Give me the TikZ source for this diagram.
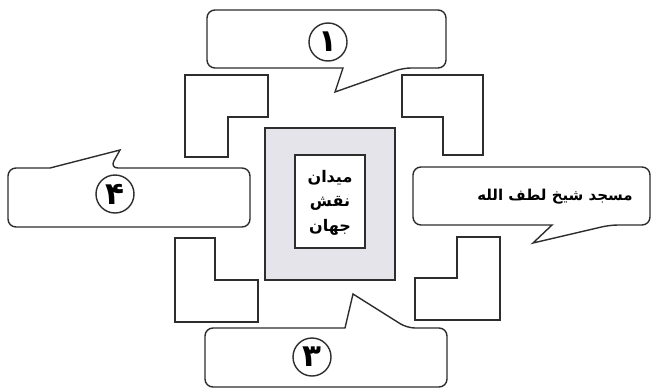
\documentclass[tikz,border=0pt]{standalone}
\usepackage{fontspec}
\TeXXeTstate=1
\newfontfamily\arabicbold[Script=Arabic]{DejaVu Sans Bold}
\begin{document}
\begin{tikzpicture}[x=1pt,y=-1pt,
  ln/.style={draw={rgb,255:red,45;green,45;blue,45},line width=1.4pt},
  callout/.style={ln,fill=white},
  lshape/.style={ln,fill=white},
  numc/.style={ln,circle,minimum size=38pt,inner sep=0pt,font=\arabicbold\fontsize{31}{31}\selectfont},
  ctext/.style={inner sep=0pt,font=\arabicbold\fontsize{16}{16}\selectfont},
  rtext/.style={inner sep=0pt,font=\arabicbold\fontsize{15}{15}\selectfont}]
\useasboundingbox (0,0) rectangle (653,391);
% L shapes
\path[lshape] (185,75) -- (268,75) -- (268,117) -- (228,117) -- (228,157) -- (185,157) -- cycle;
\path[lshape] (402,75) -- (483,75) -- (483,155) -- (443,155) -- (443,117) -- (402,117) -- cycle;
\path[lshape] (175,238) -- (215,238) -- (215,280) -- (258,280) -- (258,322) -- (175,322) -- cycle;
\path[lshape] (457,237) -- (500,237) -- (500,320) -- (415,320) -- (415,278) -- (457,278) -- cycle;
% centre
\path[ln,fill={rgb,255:red,230;green,228;blue,235}] (265,128) rectangle (395,280);
\path[ln,fill=white] (295,155) rectangle (365,248);
\node[ctext] (c1) at (330,178) {\beginR ميدان\endR};
\node[ctext] (c2) at (330,203) {\beginR نقش\endR};
\node[ctext] (c3) at (330,227) {\beginR جهان\endR};
% callouts
\path[callout] (403,68) [sharp corners] -- (335,92) -- (343,68) [rounded corners=8pt] -- (207,68) -- (207,10) -- (446,10) -- (446,68) -- cycle;
\path[callout] (110,168) [sharp corners] -- (120,150) -- (50,168) [rounded corners=8pt] -- (8,168) -- (8,227) -- (250,227) -- (250,168) -- cycle;
\path[callout] (610,225) [sharp corners] -- (533,243) -- (552,225) [rounded corners=8pt] -- (413,225) -- (413,167) -- (650,167) -- (650,225) -- cycle;
\path[callout] (407,328) [sharp corners] -- (353,294) -- (345,328) [rounded corners=8pt] -- (205,328) -- (205,387) -- (447,387) -- (447,328) -- cycle;
% numbers
\node[numc] (n1) at (328,42) {۱};
\node[numc] (n4) at (115,194) {۴};
\node[numc] (n3) at (312,357) {۳};
\node[rtext] (r) at (555,197) {\beginR مسجد شیخ لطف الله\endR};
\end{tikzpicture}
\end{document}
